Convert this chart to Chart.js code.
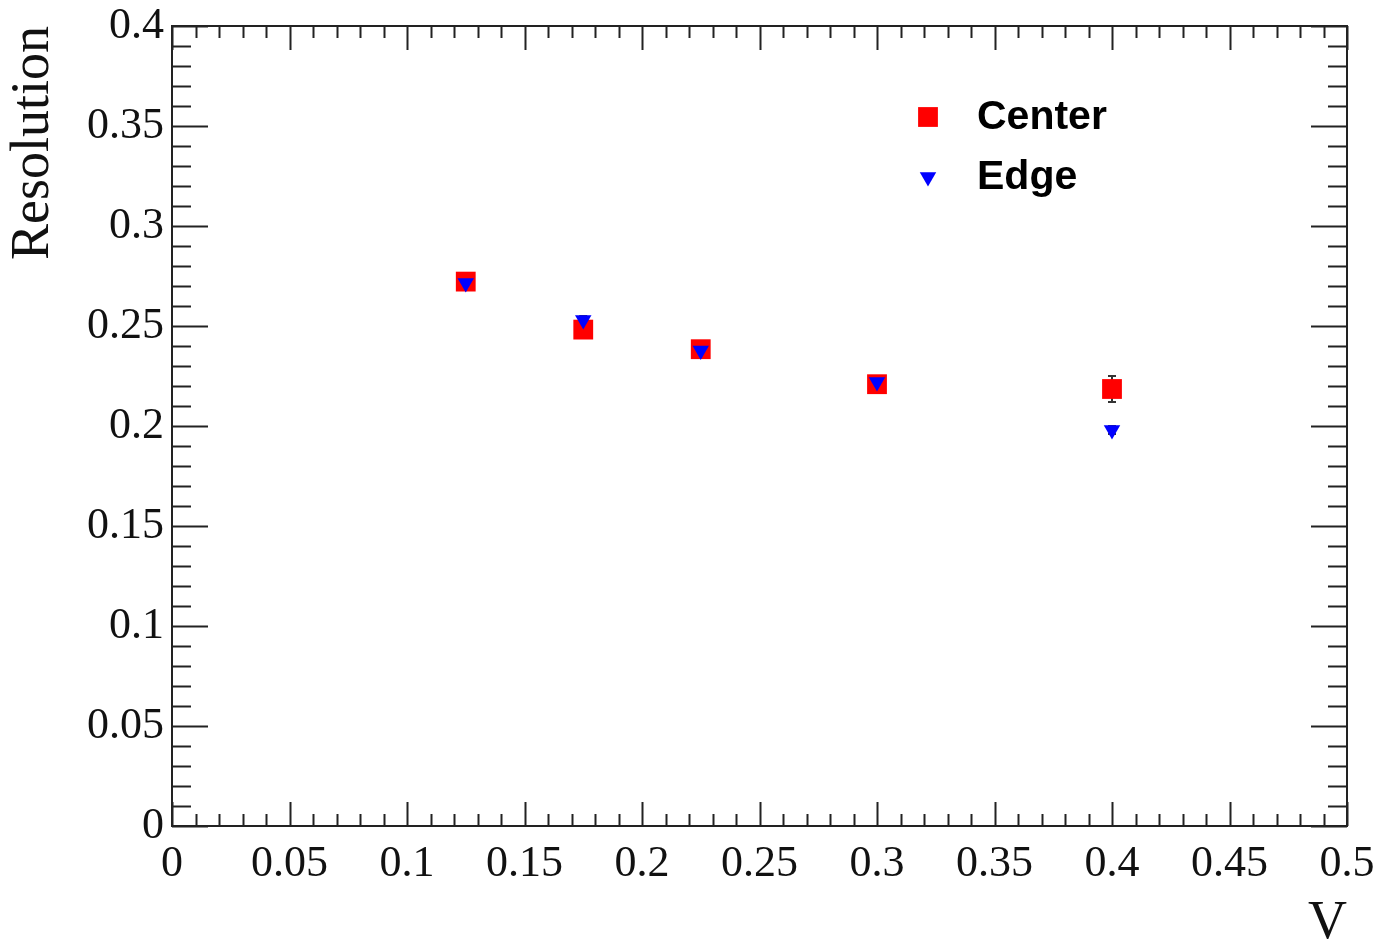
<!DOCTYPE html>
<html>
<head>
<meta charset="utf-8">
<script src="https://cdn.jsdelivr.net/npm/chart.js@4"></script>
<style>
  html, body { margin: 0; padding: 0; background: #fff; }
  #wrap { width: 1381px; height: 944px; position: relative; }
</style>
</head>
<body>
<div id="wrap"><canvas id="graphe"></canvas></div>
<script>
// valeurs
const tensions = [0.125, 0.175, 0.225, 0.3, 0.4];
const resCentre = [0.2722, 0.2482, 0.2384, 0.2209, 0.2185];
const errCentre = [0.003, 0.003, 0.003, 0.003, 0.0065];
const resBord = [0.2715, 0.2530, 0.2378, 0.2220, 0.1980];
const errBord = [0.002, 0.002, 0.002, 0.002, 0.002];

const ticksX = [0, 0.05, 0.1, 0.15, 0.2, 0.25, 0.3, 0.35, 0.4, 0.45, 0.5];
const labelsX = ['0', '0.05', '0.1', '0.15', '0.2', '0.25', '0.3', '0.35', '0.4', '0.45', '0.5'];
const ticksY = [0, 0.05, 0.1, 0.15, 0.2, 0.25, 0.3, 0.35, 0.4];
const labelsY = ['0', '0.05', '0.1', '0.15', '0.2', '0.25', '0.3', '0.35', '0.4'];

const serif = "'Liberation Serif', 'DejaVu Serif', serif";

function points(xs, ys) {
    return xs.map((x, i) => ({ x: x, y: ys[i] }));
}

// graduations à l'intérieur du cadre, style ROOT
const cadre = {
    id: 'cadre',
    afterDatasetsDraw(chart) {
        const { ctx, chartArea: a, scales } = chart;
        const sx = scales.x, sy = scales.y;
        ctx.save();
        ctx.strokeStyle = '#222';
        ctx.lineWidth = 2;
        ctx.beginPath();
        for (let k = 0; k <= 50; k++) {
            const v = k * 0.01;
            const px = Math.round(sx.getPixelForValue(v)) + 0.5;
            const len = (k % 5 === 0) ? 24 : 12;
            ctx.moveTo(px, a.bottom); ctx.lineTo(px, a.bottom - len);
            ctx.moveTo(px, a.top); ctx.lineTo(px, a.top + len);
        }
        for (let k = 0; k <= 40; k++) {
            const v = k * 0.01;
            const py = Math.round(sy.getPixelForValue(v)) + 0.5;
            const len = (k % 5 === 0) ? 36 : 19;
            ctx.moveTo(a.left, py); ctx.lineTo(a.left + len, py);
            ctx.moveTo(a.right, py); ctx.lineTo(a.right - len, py);
        }
        ctx.stroke();
        ctx.strokeRect(a.left, a.top, a.right - a.left, a.bottom - a.top);
        ctx.restore();
    }
};

// barres d'erreur sous les marqueurs
const erreurs = {
    id: 'erreurs',
    beforeDatasetsDraw(chart) {
        const { ctx, scales } = chart;
        const series = [[resCentre, errCentre], [resBord, errBord]];
        ctx.save();
        ctx.strokeStyle = '#333';
        ctx.lineWidth = 2;
        series.forEach(([vals, errs]) => {
            tensions.forEach((t, i) => {
                const px = scales.x.getPixelForValue(t);
                const hi = scales.y.getPixelForValue(vals[i] + errs[i]);
                const lo = scales.y.getPixelForValue(vals[i] - errs[i]);
                ctx.beginPath();
                ctx.moveTo(px, hi); ctx.lineTo(px, lo);
                ctx.moveTo(px - 4, hi); ctx.lineTo(px + 4, hi);
                ctx.moveTo(px - 4, lo); ctx.lineTo(px + 4, lo);
                ctx.stroke();
            });
        });
        ctx.restore();
    }
};

// légende dans le cadre
const legende = {
    id: 'legende',
    afterDraw(chart) {
        const { ctx } = chart;
        const entrees = [
            { y: 117, ds: chart.data.datasets[0] },
            { y: 177, ds: chart.data.datasets[1] }
        ];
        ctx.save();
        entrees.forEach(e => {
            ctx.fillStyle = e.ds.backgroundColor;
            ctx.strokeStyle = e.ds.backgroundColor;
            Chart.helpers.drawPoint(ctx, {
                pointStyle: e.ds.pointStyle,
                rotation: e.ds.rotation || 0,
                radius: e.ds.legendRadius,
                borderWidth: 0
            }, 928, e.y);
            ctx.fillStyle = '#000';
            ctx.font = "bold 41px 'Liberation Sans', Arial, sans-serif";
            ctx.textBaseline = 'middle';
            ctx.textAlign = 'left';
            ctx.fillText(e.ds.label, 977, e.y + 1);
        });
        ctx.restore();
    }
};

new Chart(document.getElementById('graphe'), {
    type: 'scatter',
    data: {
        datasets: [
            {
                label: 'Center',
                data: points(tensions, resCentre),
                backgroundColor: '#ff0000',
                borderColor: '#ff0000',
                borderWidth: 0,
                pointStyle: 'rect',
                pointRadius: 14,
                legendRadius: 14,
                order: 1
            },
            {
                label: 'Edge',
                data: points(tensions, resBord),
                backgroundColor: '#0000ff',
                borderColor: '#0000ff',
                borderWidth: 0,
                pointStyle: 'triangle',
                rotation: 180,
                pointRadius: 9.5,
                legendRadius: 9.5,
                order: 0
            }
        ]
    },
    options: {
        responsive: true,
        maintainAspectRatio: false,
        animation: false,
        layout: { padding: { top: 26, right: 34, left: 0, bottom: 0 } },
        plugins: {
            legend: { display: false },
            tooltip: { enabled: false }
        },
        scales: {
            x: {
                type: 'linear',
                min: 0,
                max: 0.5,
                afterBuildTicks: s => { s.ticks = ticksX.map(v => ({ value: v })); },
                afterFit: s => {
                    s.height = 118;
                    s.paddingLeft = 0; s.paddingRight = 0;
                },
                grid: { display: false, drawTicks: false },
                border: { display: false },
                ticks: {
                    autoSkip: false,
                    maxRotation: 0,
                    padding: 12,
                    color: '#111',
                    font: { family: serif, size: 44 },
                    callback: (v, i) => labelsX[i]
                },
                title: {
                    display: true,
                    text: 'V',
                    align: 'end',
                    color: '#111',
                    padding: -12,
                    font: { family: serif, size: 54 }
                }
            },
            y: {
                type: 'linear',
                min: 0,
                max: 0.4,
                afterBuildTicks: s => { s.ticks = ticksY.map(v => ({ value: v })); },
                afterFit: s => {
                    s.width = 172;
                    s.paddingTop = 0; s.paddingBottom = 0;
                },
                grid: { display: false, drawTicks: false },
                border: { display: false },
                ticks: {
                    autoSkip: false,
                    padding: 8,
                    color: '#111',
                    font: { family: serif, size: 44 },
                    callback: (v, i) => labelsY[i]
                },
                title: {
                    display: true,
                    text: 'Resolution',
                    align: 'end',
                    color: '#111',
                    padding: 1,
                    font: { family: serif, size: 54 }
                }
            }
        }
    },
    plugins: [erreurs, cadre, legende]
});
</script>
</body>
</html>
